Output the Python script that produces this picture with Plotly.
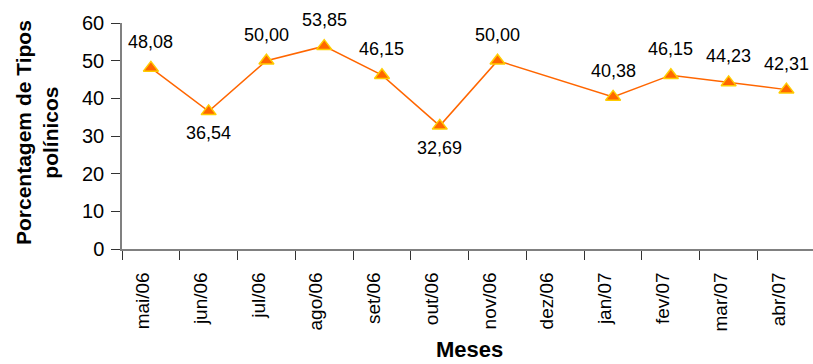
import plotly.graph_objects as go

# Monthly share of pollen types (%), May/2006 - Apr/2007; no sample in Dec/2006
meses = ["mai/06", "jun/06", "jul/06", "ago/06", "set/06", "out/06",
         "nov/06", "dez/06", "jan/07", "fev/07", "mar/07", "abr/07"]
porcentagem = [48.08, 36.54, 50.00, 53.85, 46.15, 32.69,
               50.00, None, 40.38, 46.15, 44.23, 42.31]
# label placement for each point: above (1) or below (-1) the marker
posicao = [1, -1, 1, 1, 1, -1, 1, 0, 1, 1, 1, 1]

FONT = "Liberation Sans, Arial, sans-serif"
LARANJA = "#FF6600"
AMARELO = "#FFCC00"
EIXO = "#808080"

fig = go.Figure()
fig.add_trace(go.Scatter(
    x=meses, y=porcentagem, mode="lines+markers", connectgaps=True,
    line=dict(color=LARANJA, width=1.5),
    marker=dict(symbol="triangle-up", size=13, color=LARANJA,
                line=dict(color=AMARELO, width=1.5)),
    hoverinfo="skip", showlegend=False,
))

# value labels with a decimal comma
for m, v, p in zip(meses, porcentagem, posicao):
    if v is None:
        continue
    fig.add_annotation(
        x=m, y=v, text=f"{v:.2f}".replace(".", ","), showarrow=False,
        yshift=26 if p > 0 else -22,
        font=dict(family=FONT, size=18, color="black"),
    )

# axis titles
fig.add_annotation(
    xref="paper", yref="paper", x=0, y=0.5, xanchor="center", yanchor="middle",
    xshift=-85, yshift=3,
    text="<b>Porcentagem de Tipos<br>polínicos</b>", textangle=-90,
    showarrow=False, font=dict(family=FONT, size=21, color="black"),
)
fig.add_annotation(
    xref="paper", yref="paper", x=0.5, y=0, xanchor="center", yanchor="middle",
    xshift=2, yshift=-100,
    text="<b>Meses</b>", showarrow=False,
    font=dict(family=FONT, size=22, color="black"),
)

fig.update_layout(
    width=813, height=364,
    margin=dict(l=122, r=0, t=23, b=115),
    paper_bgcolor="white", plot_bgcolor="white",
    font=dict(family=FONT, size=18, color="black"),
)
fig.update_xaxes(
    type="category", categoryorder="array", categoryarray=meses,
    range=[-0.5, 11.46], tickson="boundaries",
    showline=True, linecolor=EIXO, linewidth=1.5,
    ticks="outside", ticklen=9, tickcolor="#333", tickwidth=1,
    tickangle=-90, ticklabelshift=-8, ticklabelstandoff=14,
    showgrid=False, zeroline=False,
    tickfont=dict(family=FONT, size=19),
)
fig.update_yaxes(
    range=[0, 60], dtick=10, tick0=0,
    showline=True, linecolor=EIXO, linewidth=1.5,
    ticks="outside", ticklen=9, tickcolor="#333", tickwidth=1,
    ticklabelstandoff=3, showgrid=False, zeroline=False,
    tickfont=dict(family=FONT, size=20),
)

fig.write_html("out.html")
